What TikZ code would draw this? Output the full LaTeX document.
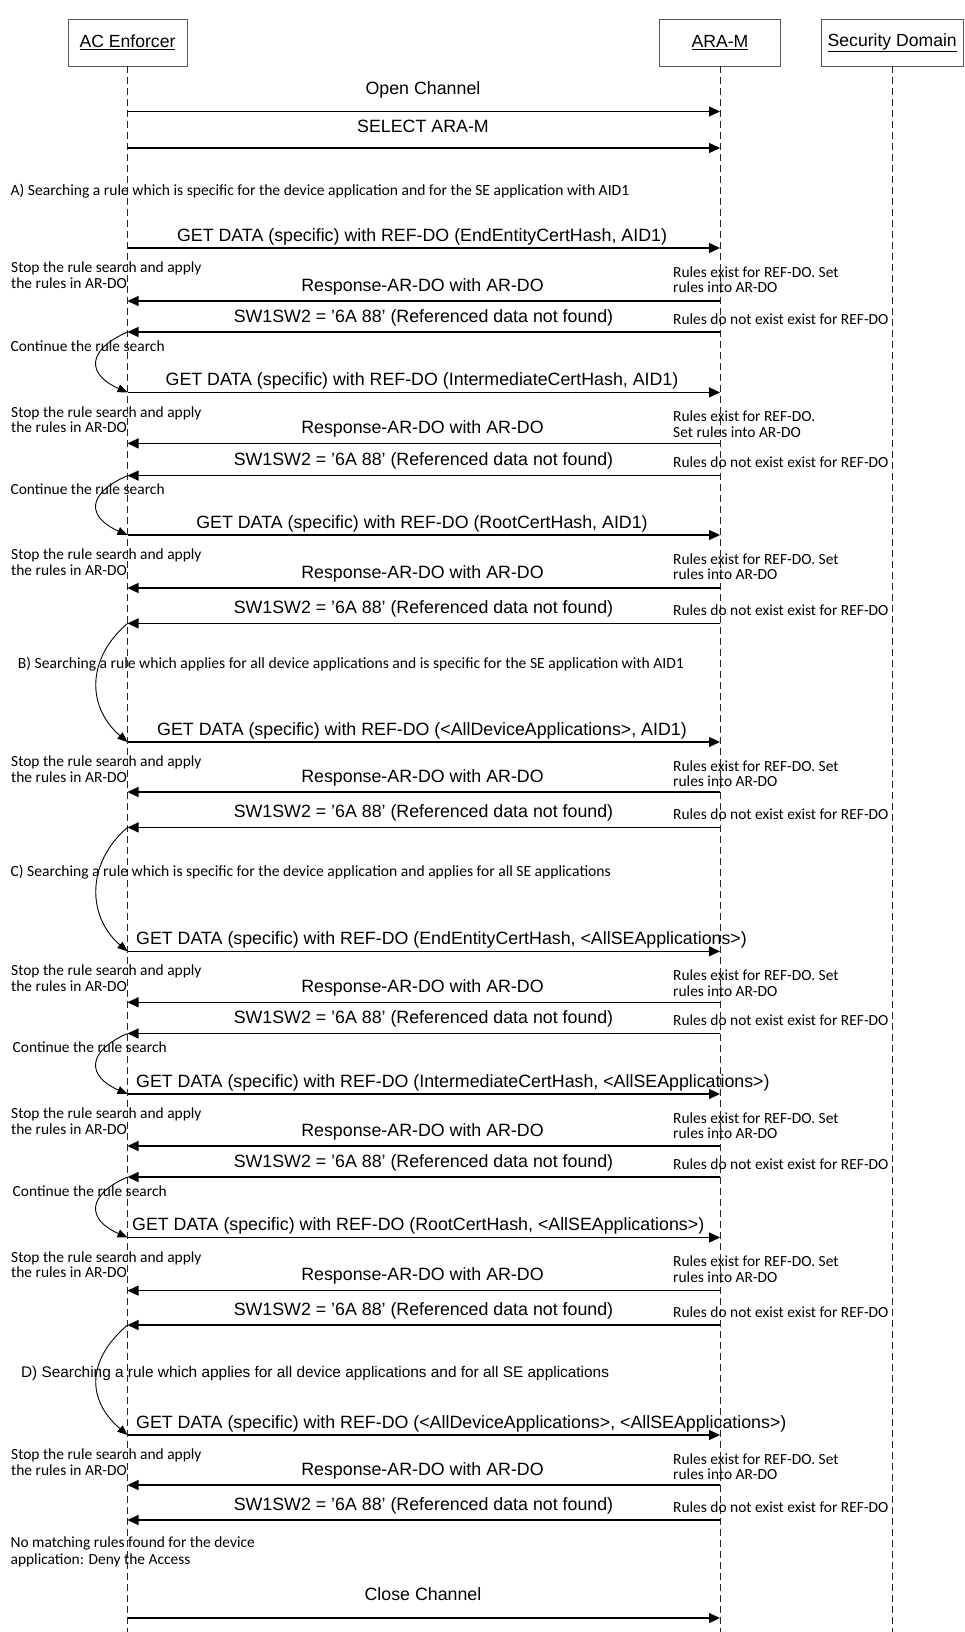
\documentclass[tikz,border=0pt]{standalone}
\usepackage{fontspec}
\newfontfamily\arialfont{Liberation Sans}
\newfontfamily\califont{Carlito}
\usetikzlibrary{arrows.meta}

\begin{document}
\begin{tikzpicture}[x=1pt,y=-1pt,
  actor/.style={draw=black!65, line width=0.9pt, fill=white, minimum height=47pt,
    inner sep=0pt, font=\arialfont\fontsize{17.6}{20}\selectfont},
  lifeline/.style={draw=black!85, line width=0.9pt, dash pattern=on 7pt off 4pt},
  msg/.style={line width=1.2pt, -{Triangle[length=11pt,width=10pt]}},
  loopback/.style={line width=0.9pt, -{Triangle[length=10pt,width=8pt]}},
  msglabel/.style={font=\arialfont\fontsize{17.8}{20}\selectfont, inner sep=0pt, anchor=base},
  lmsglabel/.style={msglabel, anchor=base west},
  note/.style={font=\califont\fontsize{15.45}{15.7}\selectfont, inner sep=0pt, align=left, anchor=north west},
  noteline/.style={font=\califont\fontsize{15.45}{15.7}\selectfont, inner sep=0pt, anchor=base west},
  phasetext/.style={font=\califont\fontsize{15.6}{18}\selectfont, inner sep=0pt, anchor=base west},
  phase/.style={font=\arialfont\fontsize{15.4}{18}\selectfont, inner sep=0pt, anchor=base west}
]
\useasboundingbox (0,0) rectangle (964,1632);
\fill[white] (0,0) rectangle (964,1632);
\coordinate (bottom) at (0,1632);

% participants
\node[actor, minimum width=119pt] (ac) at (127.5,42.5) {\underline{AC Enforcer}};
\node[actor, minimum width=121pt] (ara) at (720,42.5) {\underline{ARA-M}};
\node[actor, minimum width=142.5pt] (sd) at (892.25,42.5) {\underline{Security Domain}};

% lifelines
\draw[lifeline] (ac.south) -- (ac.south |- bottom);
\draw[lifeline] (ara.south) -- (ara.south |- bottom);
\draw[lifeline] (sd.south) -- (sd.south |- bottom);

% channel setup
\coordinate (open) at (127.5,111.5);
\draw[msg] (open) -- (open -| ara.south);
\node[msglabel] (openl) at (423,94.3) {Open Channel};
\coordinate (sel) at (127.5,148);
\draw[msg] (sel) -- (sel -| ara.south);
\node[msglabel] (sell) at (423,132.3) {SELECT ARA-M};

% ---------- A) ----------
\node[phasetext] (phA) at (10.4,195.5) {A) Searching a rule which is specific for the device application and for the SE application with AID1};

% group 1
\coordinate (g1) at (127.5,248);
\draw[msg] (g1) -- (g1 -| ara.south);
\node[msglabel] (g1l) at (422,241) {GET DATA (specific) with REF-DO (EndEntityCertHash, AID1)};
\node[note] (stop1) at (11,261.75) {Stop the rule search and apply\\the rules in AR-DO};
\node[note] (set1) at (673,266.25) {Rules exist for REF-DO. Set\\rules into AR-DO};
\coordinate (r1) at (127.5,301);
\draw[msg] (r1 -| ara.south) -- (r1);
\node[msglabel] (r1l) at (422.5,291.35) {Response-AR-DO with AR-DO};
\coordinate (s1) at (127.5,332);
\draw[msg] (s1 -| ara.south) -- (s1);
\node[msglabel] (s1l) at (423.5,322) {SW1SW2 = ’6A 88’ (Referenced data not found)};
\node[noteline] (no1) at (673,324) {Rules do not exist exist for REF-DO};

\node[noteline] (cont1) at (10.4,351) {Continue the rule search};

% group 2
\coordinate (g2) at (127.5,392.4);
\draw[msg] (g2) -- (g2 -| ara.south);
\node[msglabel] (g2l) at (422,385.4) {GET DATA (specific) with REF-DO (IntermediateCertHash, AID1)};
\node[note] (stop2) at (11,406.15) {Stop the rule search and apply\\the rules in AR-DO};
\node[note] (set2) at (673,410.65) {Rules exist for REF-DO.\\Set rules into AR-DO};
\coordinate (r2) at (127.5,443.4);
\draw[msg] (r2 -| ara.south) -- (r2);
\node[msglabel] (r2l) at (422.5,433.75) {Response-AR-DO with AR-DO};
\coordinate (s2) at (127.5,475.6);
\draw[msg] (s2 -| ara.south) -- (s2);
\node[msglabel] (s2l) at (423.5,465.6) {SW1SW2 = ’6A 88’ (Referenced data not found)};
\node[noteline] (no2) at (673,467.6) {Rules do not exist exist for REF-DO};

\node[noteline] (cont2) at (10.4,494.6) {Continue the rule search};

% group 3
\coordinate (g3) at (127.5,535);
\draw[msg] (g3) -- (g3 -| ara.south);
\node[msglabel] (g3l) at (422,528) {GET DATA (specific) with REF-DO (RootCertHash, AID1)};
\node[note] (stop3) at (11,548.75) {Stop the rule search and apply\\the rules in AR-DO};
\node[note] (set3) at (673,553.25) {Rules exist for REF-DO. Set\\rules into AR-DO};
\coordinate (r3) at (127.5,588);
\draw[msg] (r3 -| ara.south) -- (r3);
\node[msglabel] (r3l) at (422.5,578.35) {Response-AR-DO with AR-DO};
\coordinate (s3) at (127.5,623.4);
\draw[msg] (s3 -| ara.south) -- (s3);
\node[msglabel] (s3l) at (423.5,613.4) {SW1SW2 = ’6A 88’ (Referenced data not found)};
\node[noteline] (no3) at (673,615.4) {Rules do not exist exist for REF-DO};

% ---------- B) ----------
\node[phasetext] (phB) at (17.7,668.5) {B) Searching a rule which applies for all device applications and is specific for the SE application with AID1};

% group 4
\coordinate (g4) at (127.5,742);
\draw[msg] (g4) -- (g4 -| ara.south);
\node[msglabel] (g4l) at (422,735) {GET DATA (specific) with REF-DO (<AllDeviceApplications>, AID1)};
\node[note] (stop4) at (11,755.75) {Stop the rule search and apply\\the rules in AR-DO};
\node[note] (set4) at (673,760.25) {Rules exist for REF-DO. Set\\rules into AR-DO};
\coordinate (r4) at (127.5,792);
\draw[msg] (r4 -| ara.south) -- (r4);
\node[msglabel] (r4l) at (422.5,782.35) {Response-AR-DO with AR-DO};
\coordinate (s4) at (127.5,827.4);
\draw[msg] (s4 -| ara.south) -- (s4);
\node[msglabel] (s4l) at (423.5,817.4) {SW1SW2 = ’6A 88’ (Referenced data not found)};
\node[noteline] (no4) at (673,819.4) {Rules do not exist exist for REF-DO};

% ---------- C) ----------
\node[phasetext] (phC) at (10.4,876.5) {C) Searching a rule which is specific for the device application and applies for all SE applications};

% group 5
\coordinate (g5) at (127.5,951.3);
\draw[msg] (g5) -- (g5 -| ara.south);
\node[lmsglabel] (g5l) at (136,944.3) {GET DATA (specific) with REF-DO (EndEntityCertHash, <AllSEApplications>)};
\node[note] (stop5) at (11,965.05) {Stop the rule search and apply\\the rules in AR-DO};
\node[note] (set5) at (673,969.55) {Rules exist for REF-DO. Set\\rules into AR-DO};
\coordinate (r5) at (127.5,1002.3);
\draw[msg] (r5 -| ara.south) -- (r5);
\node[msglabel] (r5l) at (422.5,992.65) {Response-AR-DO with AR-DO};
\coordinate (s5) at (127.5,1033.5);
\draw[msg] (s5 -| ara.south) -- (s5);
\node[msglabel] (s5l) at (423.5,1023.5) {SW1SW2 = ’6A 88’ (Referenced data not found)};
\node[noteline] (no5) at (673,1025.5) {Rules do not exist exist for REF-DO};

\node[noteline] (cont3) at (12.5,1052.5) {Continue the rule search};

% group 6
\coordinate (g6) at (127.5,1094);
\draw[msg] (g6) -- (g6 -| ara.south);
\node[lmsglabel] (g6l) at (136,1087) {GET DATA (specific) with REF-DO (IntermediateCertHash, <AllSEApplications>)};
\node[note] (stop6) at (11,1107.75) {Stop the rule search and apply\\the rules in AR-DO};
\node[note] (set6) at (673,1112.25) {Rules exist for REF-DO. Set\\rules into AR-DO};
\coordinate (r6) at (127.5,1146);
\draw[msg] (r6 -| ara.south) -- (r6);
\node[msglabel] (r6l) at (422.5,1136.35) {Response-AR-DO with AR-DO};
\coordinate (s6) at (127.5,1177);
\draw[msg] (s6 -| ara.south) -- (s6);
\node[msglabel] (s6l) at (423.5,1167) {SW1SW2 = ’6A 88’ (Referenced data not found)};
\node[noteline] (no6) at (673,1169) {Rules do not exist exist for REF-DO};

\node[noteline] (cont4) at (12.5,1196) {Continue the rule search};

% group 7
\coordinate (g7) at (127.5,1237.5);
\draw[msg] (g7) -- (g7 -| ara.south);
\node[lmsglabel] (g7l) at (132,1230.5) {GET DATA (specific) with REF-DO (RootCertHash, <AllSEApplications>)};
\node[note] (stop7) at (11,1251.25) {Stop the rule search and apply\\the rules in AR-DO};
\node[note] (set7) at (673,1255.75) {Rules exist for REF-DO. Set\\rules into AR-DO};
\coordinate (r7) at (127.5,1290.6);
\draw[msg] (r7 -| ara.south) -- (r7);
\node[msglabel] (r7l) at (422.5,1280.95) {Response-AR-DO with AR-DO};
\coordinate (s7) at (127.5,1325);
\draw[msg] (s7 -| ara.south) -- (s7);
\node[msglabel] (s7l) at (423.5,1315) {SW1SW2 = ’6A 88’ (Referenced data not found)};
\node[noteline] (no7) at (673,1317) {Rules do not exist exist for REF-DO};

% ---------- D) ----------
\node[phase] (phD) at (20.8,1377.4) {D) Searching a rule which applies for all device applications and for all SE applications};

% group 8
\coordinate (g8) at (127.5,1435);
\draw[msg] (g8) -- (g8 -| ara.south);
\node[lmsglabel] (g8l) at (136,1428) {GET DATA (specific) with REF-DO (<AllDeviceApplications>, <AllSEApplications>)};
\node[note] (stop8) at (11,1448.75) {Stop the rule search and apply\\the rules in AR-DO};
\node[note] (set8) at (673,1453.25) {Rules exist for REF-DO. Set\\rules into AR-DO};
\coordinate (r8) at (127.5,1485);
\draw[msg] (r8 -| ara.south) -- (r8);
\node[msglabel] (r8l) at (422.5,1475.35) {Response-AR-DO with AR-DO};
\coordinate (s8) at (127.5,1520);
\draw[msg] (s8 -| ara.south) -- (s8);
\node[msglabel] (s8l) at (423.5,1510) {SW1SW2 = ’6A 88’ (Referenced data not found)};
\node[noteline] (no8) at (673,1512) {Rules do not exist exist for REF-DO};

\node[note, font=\califont\fontsize{15.45}{16.5}\selectfont] (deny) at (10.4,1536.75) {No matching rules found for the device\\application: Deny the Access};

% closing
\coordinate (close) at (127.5,1618);
\draw[msg] (close) -- (close -| ara.south);
\node[msglabel] (closel) at (423,1600) {Close Channel};

% loop-back arrows to the next request
\draw[loopback] (s1) .. controls +(-41,18) and +(-41,-18) .. (g2);
\draw[loopback] (s2) .. controls +(-41,18) and +(-41,-18) .. (g3);
\draw[loopback] (s3) .. controls +(-41,35) and +(-41,-35) .. (g4);
\draw[loopback] (s4) .. controls +(-41,35) and +(-41,-35) .. (g5);
\draw[loopback] (s5) .. controls +(-41,18) and +(-41,-18) .. (g6);
\draw[loopback] (s6) .. controls +(-41,18) and +(-41,-18) .. (g7);
\draw[loopback] (s7) .. controls +(-41,35) and +(-41,-35) .. (g8);
\end{tikzpicture}
\end{document}
